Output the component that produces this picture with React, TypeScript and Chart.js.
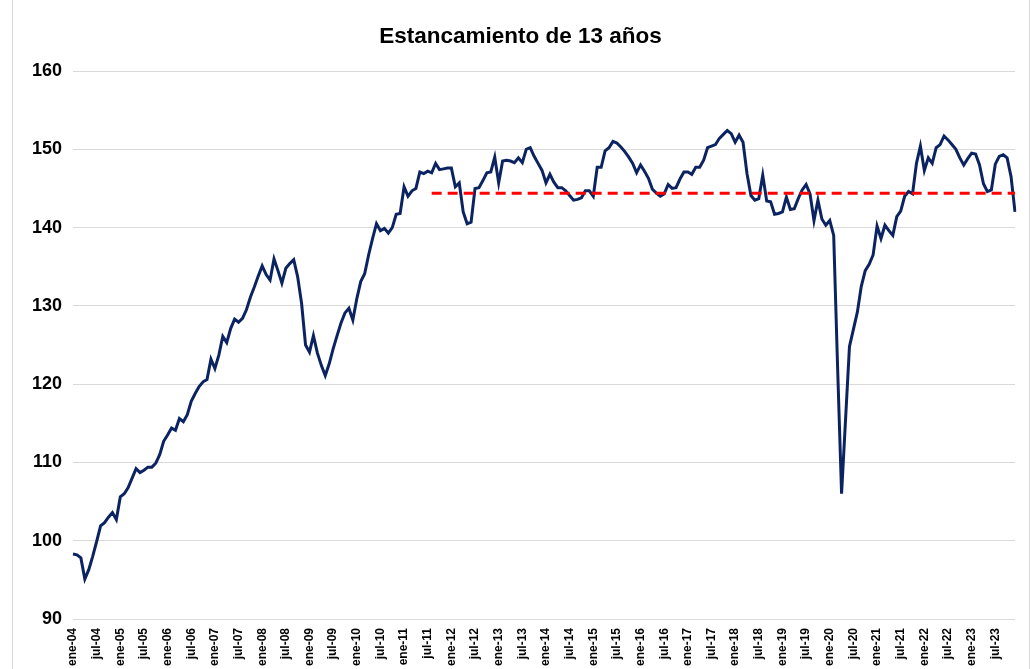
import React, { useEffect, useRef } from 'react';
import { Chart, registerables } from 'chart.js';

Chart.register(...registerables);

const chartTitle = 'Estancamiento de 13 años';
const monthNames = ['ene', 'feb', 'mar', 'abr', 'may', 'jun', 'jul', 'ago', 'sep', 'oct', 'nov', 'dic'];
const yearSuffixes = ['04', '05', '06', '07', '08', '09', '10', '11', '12', '13', '14', '15', '16', '17', '18', '19', '20', '21', '22', '23'];
const tickLabels = [
  'ene-04', 'jul-04', 'ene-05', 'jul-05', 'ene-06', 'jul-06', 'ene-07', 'jul-07', 'ene-08', 'jul-08',
  'ene-09', 'jul-09', 'ene-10', 'jul-10', 'ene-11', 'jul-11', 'ene-12', 'jul-12', 'ene-13', 'jul-13',
  'ene-14', 'jul-14', 'ene-15', 'jul-15', 'ene-16', 'jul-16', 'ene-17', 'jul-17', 'ene-18', 'jul-18',
  'ene-19', 'jul-19', 'ene-20', 'jul-20', 'ene-21', 'jul-21', 'ene-22', 'jul-22', 'ene-23', 'jul-23',
];

const indexValues = [
  // 2004
  98.3, 98.2, 97.8, 95.1, 96.3, 98.0, 99.9, 101.9, 102.3, 103.0, 103.6, 102.7,
  // 2005
  105.6, 106.0, 106.8, 108.0, 109.2, 108.7, 109.0, 109.4, 109.4, 109.9, 111.0, 112.7,
  // 2006
  113.5, 114.4, 114.1, 115.6, 115.2, 116.1, 117.8, 118.8, 119.7, 120.3, 120.6, 123.2,
  // 2007
  122.0, 123.7, 126.1, 125.3, 127.1, 128.3, 127.9, 128.4, 129.5, 131.1, 132.4, 133.8,
  // 2008
  135.1, 134.0, 133.3, 136.0, 134.5, 132.9, 134.8, 135.4, 135.9, 133.7, 130.3, 125.0,
  // 2009
  124.1, 126.2, 124.0, 122.4, 121.1, 122.6, 124.5, 126.2, 127.8, 129.1, 129.7, 128.2,
  // 2010
  130.9, 133.1, 134.1, 136.5, 138.6, 140.5, 139.6, 139.9, 139.3, 140.0, 141.7, 141.8,
  // 2011
  145.2, 144.0, 144.7, 145.0, 147.1, 146.9, 147.2, 147.0, 148.2, 147.4, 147.5, 147.6,
  // 2012
  147.6, 145.2, 145.7, 142.0, 140.5, 140.7, 145.0, 145.1, 146.0, 147.0, 147.1, 149.0,
  // 2013
  145.7, 148.5, 148.6, 148.5, 148.3, 148.9, 148.3, 150.0, 150.2, 149.1, 148.2, 147.3,
  // 2014
  145.7, 146.8, 145.8, 145.1, 145.1, 144.7, 144.1, 143.5, 143.6, 143.8, 144.7, 144.7,
  // 2015
  144.0, 147.7, 147.7, 149.8, 150.2, 151.0, 150.8, 150.3, 149.7, 149.0, 148.2, 147.0,
  // 2016
  148.0, 147.2, 146.3, 144.9, 144.4, 144.0, 144.3, 145.5, 145.0, 145.1, 146.2, 147.1,
  // 2017
  147.1, 146.8, 147.7, 147.7, 148.6, 150.2, 150.4, 150.6, 151.4, 151.9, 152.4, 152.0,
  // 2018
  150.9, 151.8, 150.9, 146.9, 144.1, 143.5, 143.7, 146.7, 143.4, 143.3, 141.7, 141.8,
  // 2019
  142.0, 143.9, 142.3, 142.4, 143.7, 144.8, 145.5, 144.3, 140.9, 143.5, 141.1, 140.3,
  // 2020
  140.9, 139.0, 122.0, 106.0, 115.4, 124.8, 127.0, 129.2, 132.5, 134.5, 135.3, 136.5,
  // 2021
  140.2, 138.6, 140.3, 139.6, 139.0, 141.4, 142.1, 144.0, 144.6, 144.3, 148.2, 150.4,
  // 2022
  147.3, 148.9, 148.2, 150.2, 150.6, 151.7, 151.2, 150.6, 150.0, 148.9, 148.0, 148.8,
  // 2023
  149.5, 149.4, 148.0, 145.6, 144.6, 144.8, 148.1, 149.1, 149.3, 148.9, 146.5, 142.0,
];

const stagnationLevel = 144.4;
const stagnationStart = 'ago-11';
const yMin = 90;
const yMax = 160;
const yStep = 10;

const categories = yearSuffixes.flatMap((y) => monthNames.map((m) => `${m}-${y}`));

const FONT = '"Liberation Sans", Arial, sans-serif';

export default function App() {
  const canvasRef = useRef<HTMLCanvasElement | null>(null);

  useEffect(() => {
    const canvas = canvasRef.current;
    if (!canvas) return;
    const startIdx = categories.indexOf(stagnationStart);
    const stagnationData = categories.map((_, i) => (i >= startIdx ? stagnationLevel : null));

    const chart = new Chart(canvas, {
      type: 'line',
      data: {
        labels: categories,
        datasets: [
          {
            label: 'Nivel',
            data: stagnationData,
            borderColor: '#FF0000',
            borderWidth: 3,
            borderDash: [10, 6],
            pointRadius: 0,
            fill: false,
            tension: 0,
            spanGaps: false,
            order: 0,
          },
          {
            label: 'Índice',
            data: indexValues,
            borderColor: '#0B2461',
            borderWidth: 3,
            pointRadius: 0,
            fill: false,
            tension: 0,
            order: 1,
          },
        ],
      },
      options: {
        responsive: false,
        animation: false,
        layout: { padding: { left: 26, right: 16, top: 0, bottom: 0 } },
        plugins: {
          legend: { display: false },
          tooltip: { enabled: false },
          title: {
            display: true,
            text: chartTitle,
            color: '#000000',
            font: { family: FONT, size: 22.5, weight: 'bold' },
            padding: { top: 23, bottom: 21 },
          },
        },
        scales: {
          x: {
            type: 'category',
            offset: false,
            grid: { display: false, drawTicks: false },
            border: { display: false },
            ticks: {
              autoSkip: false,
              maxRotation: 90,
              minRotation: 90,
              padding: 9,
              color: '#000000',
              font: { family: FONT, size: 12, weight: 'bold' },
              callback: (_v: any, i: number) => (tickLabels.includes(categories[i]) ? categories[i] : null),
            },
            afterFit: (s: any) => {
              s.height = 101;
            },
          },
          y: {
            min: yMin,
            max: yMax,
            ticks: {
              stepSize: yStep,
              padding: 11,
              color: '#000000',
              font: { family: FONT, size: 18, weight: 'bold' },
            },
            grid: { color: '#D9D9D9', lineWidth: 1, drawTicks: false },
            border: { display: false },
            afterFit: (s: any) => {
              s.width = 47;
            },
          },
        },
      },
    });
    return () => chart.destroy();
  }, []);

  return (
    <div style={{ position: 'fixed', left: 0, top: 0, width: 1031, height: 669, overflow: 'hidden', background: '#fff' }}>
      <div
        style={{
          position: 'absolute',
          left: 12,
          top: 0,
          width: 1018,
          height: 669,
          boxSizing: 'border-box',
          borderLeft: '1px solid #D9D9D9',
          borderRight: '1px solid #D9D9D9',
        }}
      />
      <canvas ref={canvasRef} width={1031} height={720} style={{ position: 'absolute', left: 0, top: 0, width: 1031, height: 720 }} />
    </div>
  );
}
